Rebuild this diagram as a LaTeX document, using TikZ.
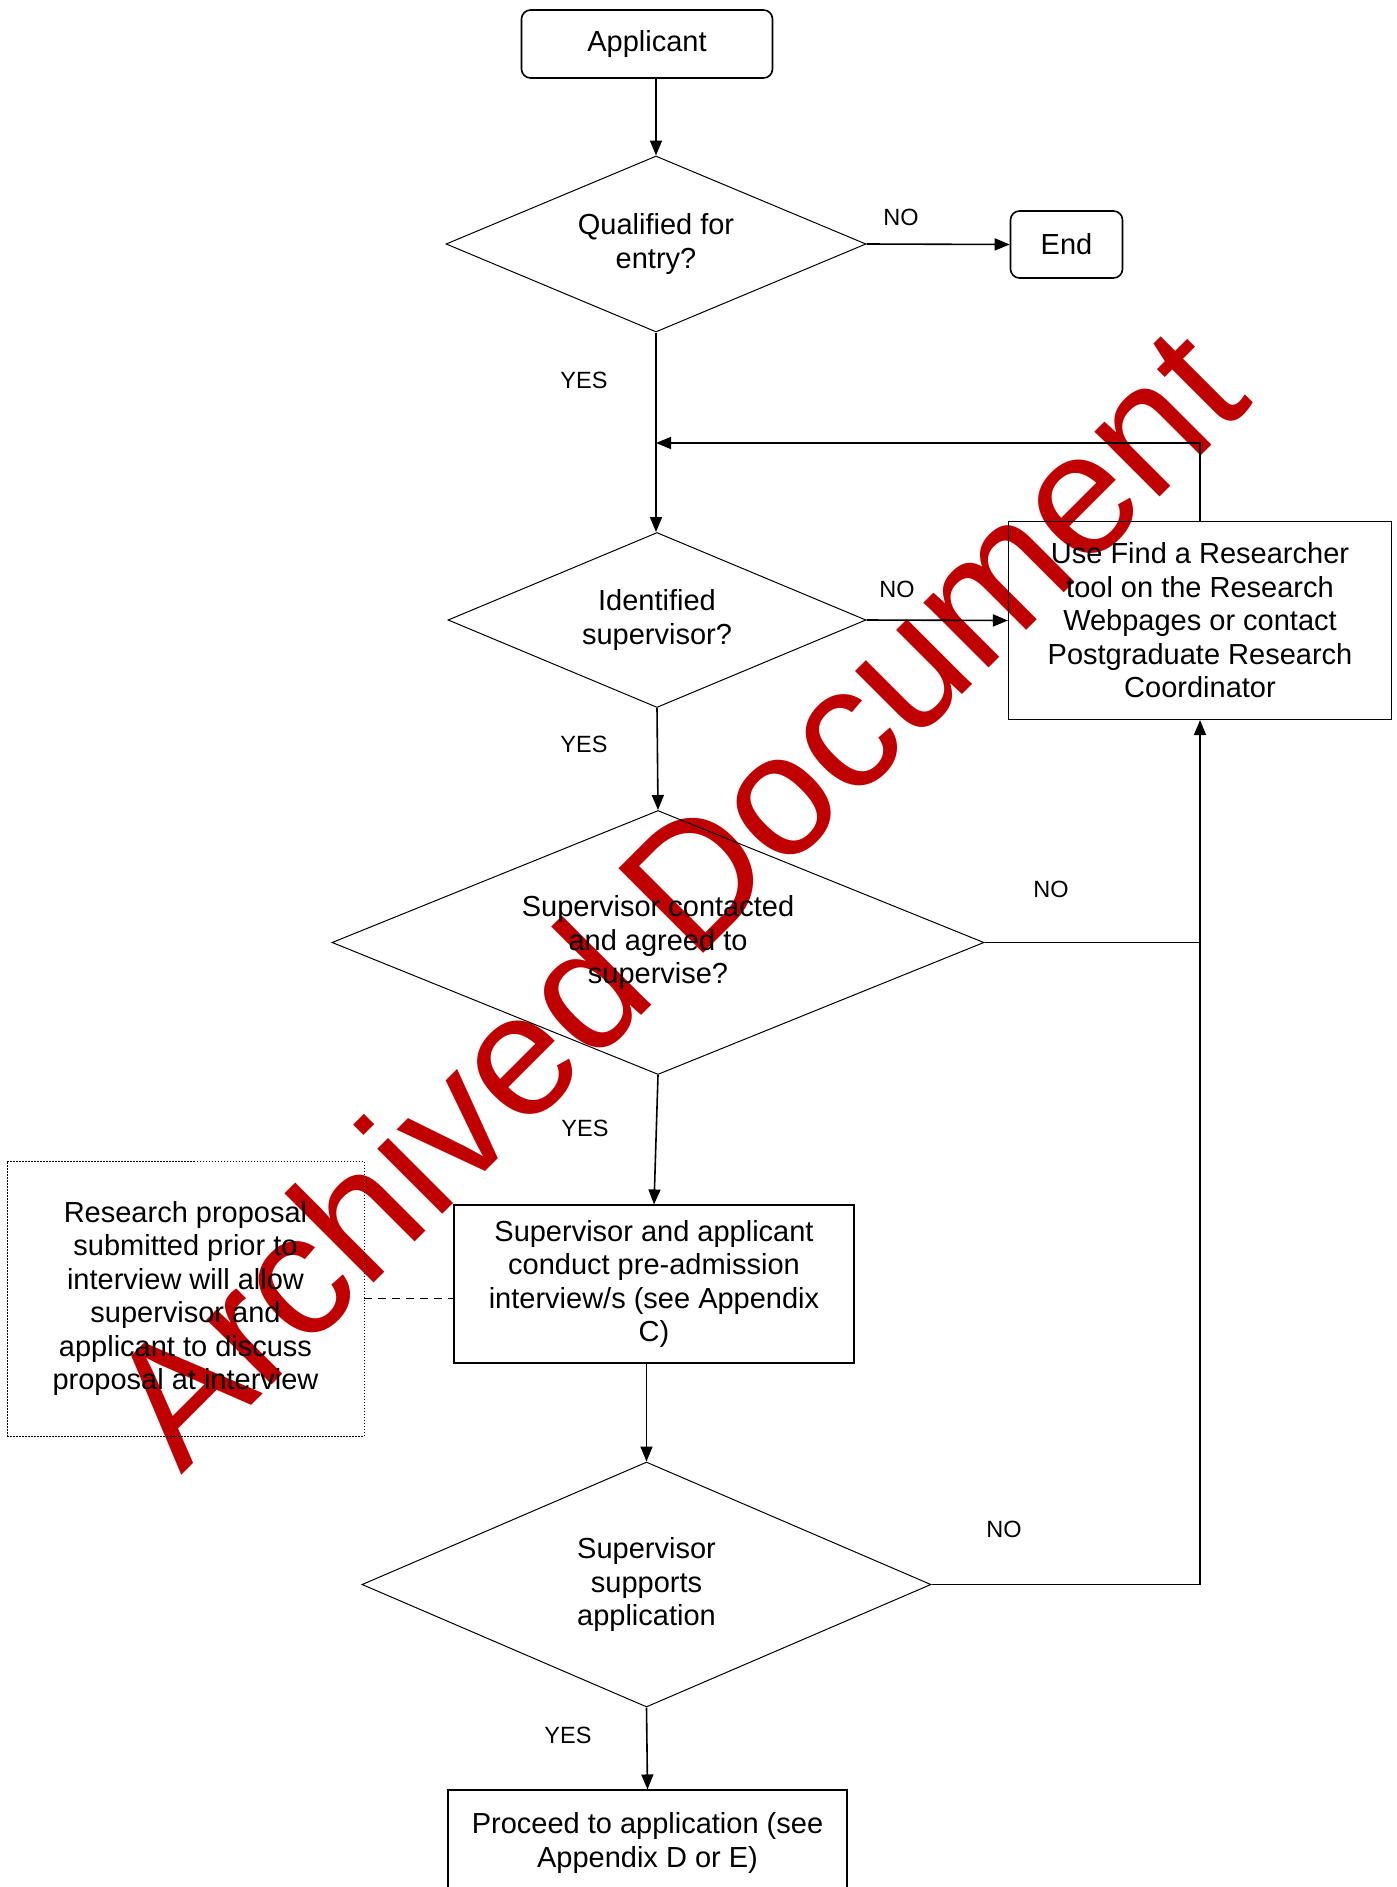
\documentclass[tikz,border=0pt]{standalone}
\usepackage{fontspec}
\setmainfont{Liberation Sans}
\usetikzlibrary{shapes.geometric,arrows.meta}
\definecolor{wmred}{HTML}{C00000}
\begin{document}
\begin{tikzpicture}[x=1pt,y=-1pt,
  every node/.style={font=\fontsize{29}{33.5}\selectfont, align=center, inner sep=0pt},
  rbox/.style={draw, line width=1.6pt, rounded corners=9pt},
  plainbox/.style={draw, line width=1.1pt},
  dotbox/.style={draw, line width=0.9pt, dash pattern=on 1.5pt off 1.5pt},
  dia/.style={draw, diamond, line width=1pt},
  lbl/.style={font=\fontsize{23.5}{28}\selectfont},
  conn/.style={line width=1.6pt},
  arr/.style={conn, -{Triangle[length=15pt,width=12pt]}},
  dashconn/.style={line width=1.4pt, dash pattern=on 8pt off 6pt}
]
\useasboundingbox (0,0) rectangle (1397,1887);
\clip (0,0) rectangle (1397,1887);
\fill[white] (0,0) rectangle (1397,1887);

% watermark
\node[rotate=45, anchor=base west, text=wmred, font=\fontsize{174}{174}\selectfont] (wm) at (181,1476) {Archived Document};

% nodes
\node[rbox, minimum width=251pt, minimum height=68pt] (app) at (647,44) {Applicant};
\node[dia, aspect=2.386, minimum width=420pt, minimum height=176pt] (q1) at (656,244) {Qualified for\\entry?};
\node[rbox, minimum width=112pt, minimum height=67pt] (end) at (1066.5,244.5) {End};
\node[dia, aspect=2.389, minimum width=418pt, minimum height=175pt] (q2) at (657,620) {Identified\\supervisor?};
\node[plainbox, minimum width=383pt, minimum height=198pt] (res) at (1200,620.5) {Use Find a Researcher\\tool on the Research\\Webpages or contact\\Postgraduate Research\\Coordinator};
\node[dia, aspect=2.47, minimum width=652pt, minimum height=264pt] (q3) at (658,942.5) {Supervisor contacted\\and agreed to\\supervise?};
\node[plainbox, minimum width=400pt, minimum height=158pt] (iv) at (654,1284) {Supervisor and applicant\\conduct pre-admission\\interview/s (see Appendix\\C)};
\node[dotbox, minimum width=357pt, minimum height=275pt] (prop) at (185.5,1298.5) {Research proposal\\submitted prior to\\interview will allow\\supervisor and\\applicant to discuss\\proposal at interview};
\node[dia, aspect=2.32, minimum width=569pt, minimum height=245pt] (q4) at (646.5,1584.5) {Supervisor\\supports\\application};
\node[plainbox, minimum width=399pt, minimum height=106pt] (fin) at (647.5,1843) {Proceed to application (see\\Appendix D or E)};

% labels
\node[lbl] (no1) at (901,217) {NO};
\node[lbl] (yes1) at (584,380) {YES};
\node[lbl] (no2) at (897,589) {NO};
\node[lbl] (yes2) at (584,744) {YES};
\node[lbl] (no3) at (1051,889) {NO};
\node[lbl] (yes3) at (585,1128) {YES};
\node[lbl] (no4) at (1004,1529) {NO};
\node[lbl] (yes4) at (568,1735) {YES};

% connectors
\coordinate (join) at (q1.south |- 0,443);
\draw[arr] (app.south -| q1.north) -- (q1.north);
\draw[arr] (q1.east) -- (end.west);
\draw[arr] (q1.south) -- (q2.north -| q1.south);
\draw[arr] (res.north) |- (join);
\draw[arr] (q2.east) -- (res.west);
\draw[arr] (q2.south) -- (q3.north);
\draw[conn] (q3.east) -- (q3.east -| res.south);
\draw[arr] (q4.east) -| (res.south);
\draw[arr] (q3.south) -- (iv.north);
\draw[dashconn] (prop.east) -- (prop.east -| iv.west);
\draw[arr] (iv.south -| q4.north) -- (q4.north);
\draw[arr] (q4.south) -- (fin.north);
\end{tikzpicture}
\end{document}
